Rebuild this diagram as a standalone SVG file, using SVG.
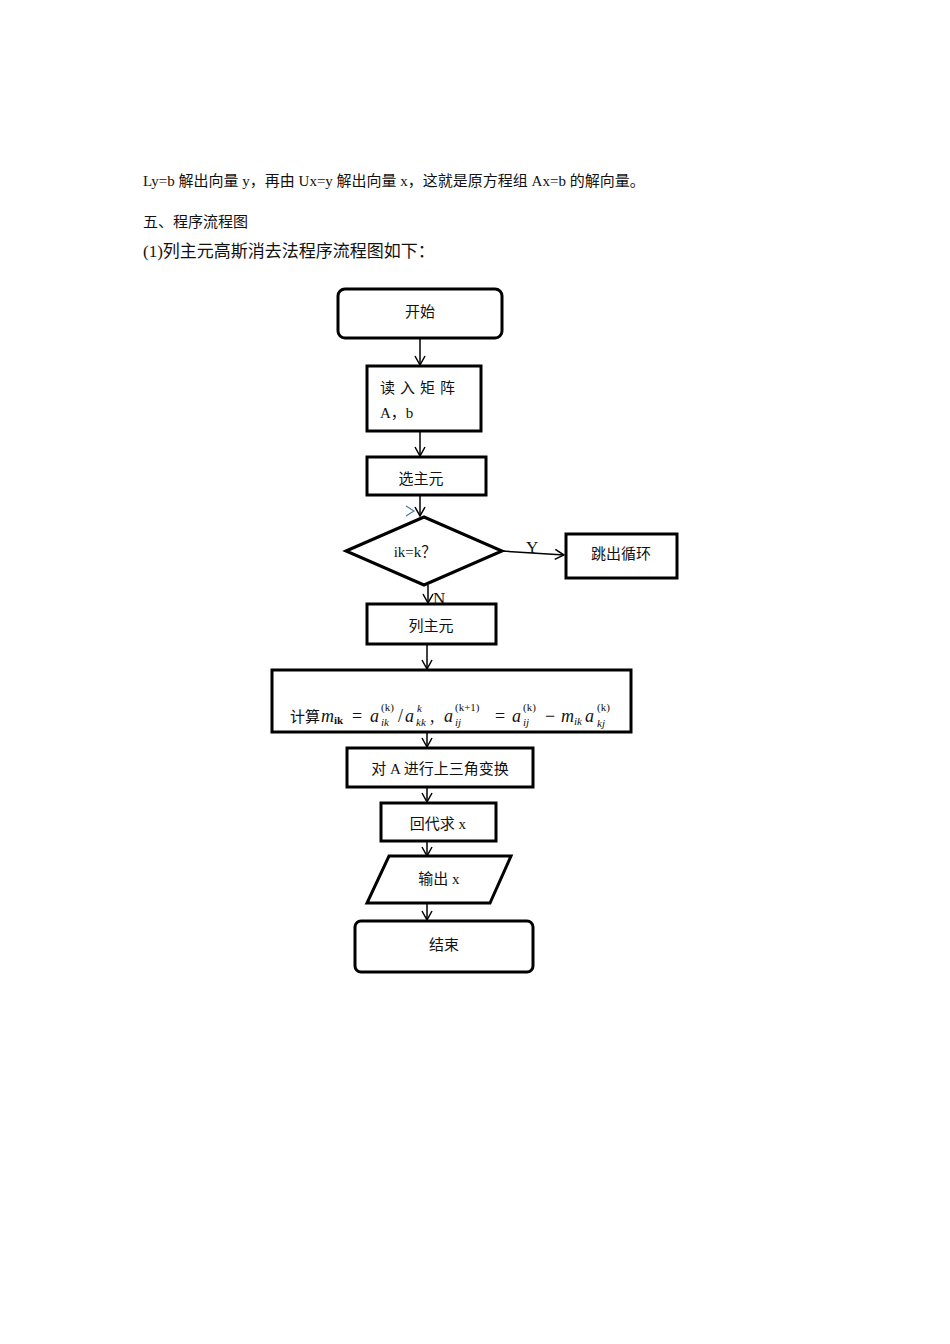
<svg xmlns="http://www.w3.org/2000/svg" width="950" height="1344" viewBox="0 0 950 1344">
<style>
text{font-family:"Liberation Serif","Noto Sans CJK SC",serif;fill:#111}
.b{fill:#fff;stroke:#000;stroke-width:3}
.c{stroke:#000;stroke-width:1.5;fill:none}
.m{font-style:italic;font-size:18px}
.o{font-size:18px}
.s{font-size:11px}
.si{font-size:11px;font-style:italic}
</style>
<defs><marker id="a" markerWidth="12" markerHeight="12" refX="10" refY="6" orient="auto" markerUnits="userSpaceOnUse"><path d="M1,1 L10,6 L1,11" fill="none" stroke="#000" stroke-width="1.5"/></marker></defs>
<rect width="950" height="1344" fill="#fff"/>
<text x="143" y="186" font-size="15">Ly=b 解出向量 y，再由 Ux=y 解出向量 x，这就是原方程组 Ax=b 的解向量。</text>
<text x="143" y="227" font-size="15">五、程序流程图</text>
<text x="143" y="257" font-size="17">(1)列主元高斯消去法程序流程图如下：</text>
<g id="connectors">
<line class="c" x1="420" y1="338" x2="420" y2="365" marker-end="url(#a)"/>
<line class="c" x1="420" y1="431" x2="420" y2="456" marker-end="url(#a)"/>
<line class="c" x1="420" y1="495" x2="420" y2="516" marker-end="url(#a)"/>
<path d="M406,506 L414,511 L406,516" fill="none" stroke="#4a7bb0" stroke-width="1.2"/>
<line class="c" x1="502" y1="551" x2="564" y2="555" marker-end="url(#a)"/>
<text x="526" y="553" font-size="17">Y</text>
<line class="c" x1="428" y1="585" x2="428" y2="603" marker-end="url(#a)"/>
<text x="433" y="604" font-size="17">N</text>
<line class="c" x1="427" y1="644" x2="427" y2="669" marker-end="url(#a)"/>
<line class="c" x1="427" y1="732" x2="427" y2="747" marker-end="url(#a)"/>
<line class="c" x1="427" y1="787" x2="427" y2="802" marker-end="url(#a)"/>
<line class="c" x1="427" y1="841" x2="427" y2="856" marker-end="url(#a)"/>
<line class="c" x1="427" y1="903" x2="427" y2="920" marker-end="url(#a)"/>
</g>
<g id="start"><rect class="b" x="338" y="289" width="164" height="49" rx="7"/><text x="420" y="317" font-size="15" text-anchor="middle">开始</text></g>
<g id="read"><rect class="b" x="367" y="366" width="114" height="65"/><text x="380" y="393" font-size="15" letter-spacing="5">读入矩阵</text><text x="380" y="418" font-size="15">A，b</text></g>
<g id="select"><rect class="b" x="367" y="457" width="119" height="38"/><text x="421" y="484" font-size="15" text-anchor="middle">选主元</text></g>
<g id="decision"><polygon class="b" points="346,551 424,517 502,551 424,585"/><text x="415" y="557" font-size="15" text-anchor="middle">ik=k？</text></g>
<g id="exit"><rect class="b" x="566" y="534" width="111" height="44"/><text x="621" y="559" font-size="15" text-anchor="middle">跳出循环</text></g>
<g id="pivot"><rect class="b" x="367" y="604" width="129" height="40"/><text x="431" y="631" font-size="15" text-anchor="middle">列主元</text></g>
<g id="compute"><rect class="b" x="272" y="670" width="359" height="62"/>
<text x="290" y="722" font-size="15">计算</text>
<text x="321" y="722" class="m">m</text><text x="334" y="724" class="s" font-weight="bold">ik</text>
<text x="352" y="722" class="o">=</text>
<text x="370" y="722" class="m">a</text><text x="381" y="726" class="si">ik</text><text x="381" y="711" class="s">(k)</text>
<text x="398" y="722" class="o">/</text>
<text x="405" y="722" class="m">a</text><text x="416" y="726" class="si">kk</text><text x="417" y="712" class="si">k</text>
<text x="430" y="722" class="o">,</text>
<text x="444" y="722" class="m">a</text><text x="455" y="726" class="si">ij</text><text x="455" y="711" class="s">(k+1)</text>
<text x="495" y="722" class="o">=</text>
<text x="512" y="722" class="m">a</text><text x="523" y="726" class="si">ij</text><text x="523" y="711" class="s">(k)</text>
<text x="545" y="722" class="o">−</text>
<text x="561" y="722" class="m">m</text><text x="574" y="725" class="si">ik</text>
<text x="585" y="722" class="m">a</text><text x="597" y="727" class="si">kj</text><text x="597" y="711" class="s">(k)</text>
</g>
<g id="triangular"><rect class="b" x="347" y="748" width="186" height="39"/><text x="440" y="774" font-size="15" text-anchor="middle">对 A 进行上三角变换</text></g>
<g id="back"><rect class="b" x="381" y="803" width="115" height="38"/><text x="438" y="829" font-size="15" text-anchor="middle">回代求 x</text></g>
<g id="output"><polygon class="b" points="389,856 511,856 490,903 367,903"/><text x="439" y="884" font-size="15" text-anchor="middle">输出 x</text></g>
<g id="end"><rect class="b" x="355" y="921" width="178" height="51" rx="6"/><text x="444" y="950" font-size="15" text-anchor="middle">结束</text></g>
</svg>
